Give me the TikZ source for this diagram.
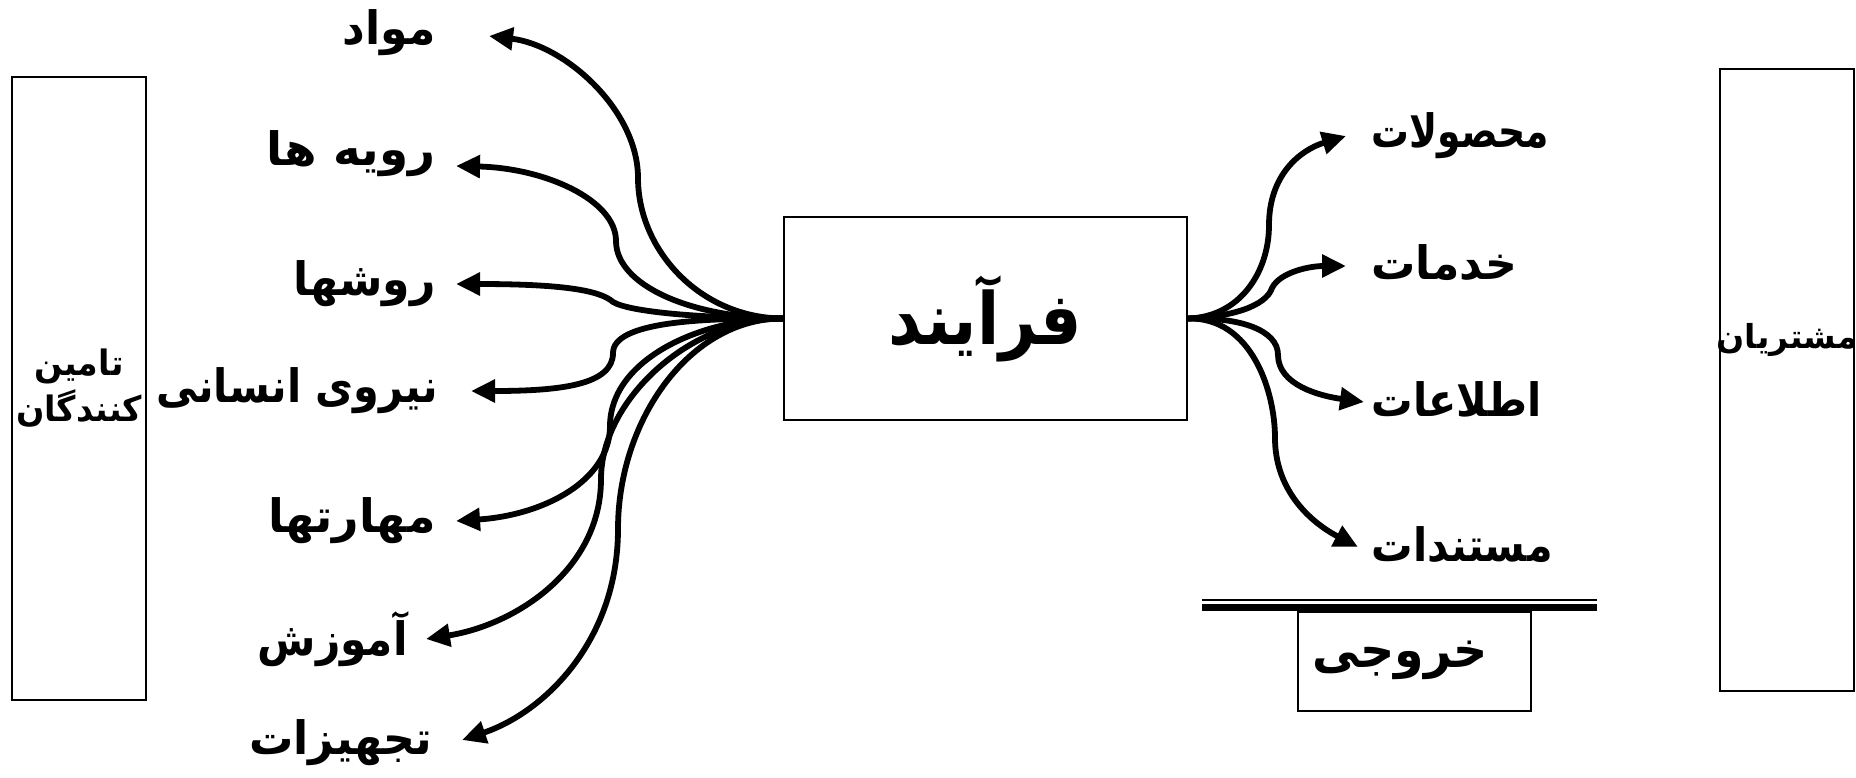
\documentclass[tikz,border=0pt]{standalone}
\usepackage{fontspec}
\usepackage{graphicx}
\newfontfamily\fa[Script=Arabic]{DejaVu Sans}
\TeXXeTstate=1
\usetikzlibrary{arrows.meta}
\begin{document}
\begin{tikzpicture}[x=0.5pt,y=-0.5pt,
 box/.style={draw, line width=1pt, inner sep=0, fill=white},
 conn/.style={line width=2.9pt, -{Triangle[length=12pt,width=11pt]}},
 lbl/.style={font=\fa\bfseries\fontsize{23}{27}\selectfont, inner sep=0},
 small/.style={font=\fa\bfseries\fontsize{17.5}{23}\selectfont, inner sep=0},
]
\useasboundingbox (0,0) rectangle (1856,777);
% boxes
\node[box, minimum width=67pt, minimum height=311.5pt, align=center, small] (supp) at (79,388.5) {\scalebox{0.95}[1]{\beginR تامین\endR}\\\scalebox{0.95}[1]{\beginR کنندگان\endR}};
\node[box, minimum width=201.5pt, minimum height=101.5pt, font=\fa\bfseries\fontsize{36}{40}\selectfont] (proc) at (985.5,318.5) {\scalebox{0.9}[1]{\beginR فرآیند\endR}};
\node[box, minimum width=67pt, minimum height=311pt] (cust) at (1787,380) {};
\node[small, font=\fa\bfseries\fontsize{16.5}{20}\selectfont] (custt) at (1787,340) {\beginR مشتریان\endR};
\node[box, minimum width=116.5pt, minimum height=49.5pt] (out) at (1414.5,661.5) {};
\node[lbl, font=\fa\bfseries\fontsize{25}{28}\selectfont] (outt) at (1400,660) {\scalebox{0.95}[1]{\beginR خروجی\endR}};
\coordinate (dl1) at (1202,600); \coordinate (dr1) at (1597,600);
\coordinate (dl2) at (1202,607); \coordinate (dr2) at (1597,607);
\draw[line width=1pt] (dl1) -- (dr1);
\draw[line width=3.5pt] (dl2) -- (dr2);
% left labels
\node[lbl, anchor=east] (l1) at (436,33) {\scalebox{0.96}[1]{\beginR مواد\endR}};
\node[lbl, anchor=east] (l2) at (436,154) {\scalebox{1.02}[1]{\beginR رویه ها\endR}};
\node[lbl, anchor=east] (l3) at (436,284) {\scalebox{0.96}[1]{\beginR روشها\endR}};
\node[lbl, anchor=east] (l4) at (438,391) {\scalebox{0.9}[1]{\beginR نیروی انسانی\endR}};
\node[lbl, anchor=east] (l5) at (436,521) {\scalebox{1.0}[1]{\beginR مهارتها\endR}};
\node[lbl, anchor=east] (l6) at (408,639) {\scalebox{0.92}[1]{\beginR آموزش\endR}};
\node[lbl, anchor=east] (l7) at (432,743) {\scalebox{0.96}[1]{\beginR تجهیزات\endR}};
% right labels
\node[lbl, anchor=west] (r1) at (1371,136) {\scalebox{0.82}[1]{\beginR محصولات\endR}};
\node[lbl, anchor=west] (r2) at (1371,263) {\scalebox{0.96}[1]{\beginR خدمات\endR}};
\node[lbl, anchor=west] (r3) at (1371,399) {\scalebox{0.9}[1]{\beginR اطلاعات\endR}};
\node[lbl, anchor=west] (r4) at (1371,545) {\scalebox{0.9}[1]{\beginR مستندات\endR}};
% mid points and tips
\coordinate (m1) at (638,178); \coordinate (t1) at (489,36);
\coordinate (m2) at (616,241); \coordinate (t2) at (456,166);
\coordinate (m3) at (613,302); \coordinate (t3) at (456,284);
\coordinate (m4) at (613,353); \coordinate (t4) at (471,391);
\coordinate (m5) at (610,426); \coordinate (t5) at (456,521);
\coordinate (m6) at (601,479); \coordinate (t6) at (426,639);
\coordinate (m7) at (618,529); \coordinate (t7) at (462,740);
\coordinate (n1) at (1269,225); \coordinate (u1) at (1346,136);
\coordinate (n2) at (1272,288); \coordinate (u2) at (1346,266);
\coordinate (n3) at (1278,355); \coordinate (u3) at (1364,402);
\coordinate (n4) at (1275,438); \coordinate (u4) at (1358,547);
% left connectors
\draw[conn] (proc.west) .. controls (700,318) and (638,250) .. (m1) .. controls (638,110) and (565,45) .. (t1);
\draw[conn] (proc.west) .. controls (690,318) and (616,285) .. (m2) .. controls (616,200) and (545,168) .. (t2);
\draw[conn] (proc.west) .. controls (700,318) and (630,312) .. (m3) .. controls (600,290) and (560,284) .. (t3);
\draw[conn] (proc.west) .. controls (700,318) and (613,322) .. (m4) .. controls (613,385) and (560,391) .. (t4);
\draw[conn] (proc.west) .. controls (700,318) and (610,360) .. (m5) .. controls (610,480) and (545,515) .. (t5);
\draw[conn] (proc.west) .. controls (690,318) and (601,400) .. (m6) .. controls (601,570) and (515,625) .. (t6);
\draw[conn] (proc.west) .. controls (690,318) and (618,420) .. (m7) .. controls (618,640) and (545,712) .. (t7);
% right connectors
\draw[conn] (proc.east) .. controls (1240,317) and (1269,272) .. (n1) .. controls (1269,175) and (1300,150) .. (u1);
\draw[conn] (proc.east) .. controls (1232,317) and (1266,306) .. (n2) .. controls (1280,272) and (1310,266) .. (u2);
\draw[conn] (proc.east) .. controls (1240,317) and (1278,330) .. (n3) .. controls (1278,385) and (1320,396) .. (u3);
\draw[conn] (proc.east) .. controls (1252,317) and (1275,392) .. (n4) .. controls (1275,490) and (1310,522) .. (u4);
\end{tikzpicture}
\end{document}
